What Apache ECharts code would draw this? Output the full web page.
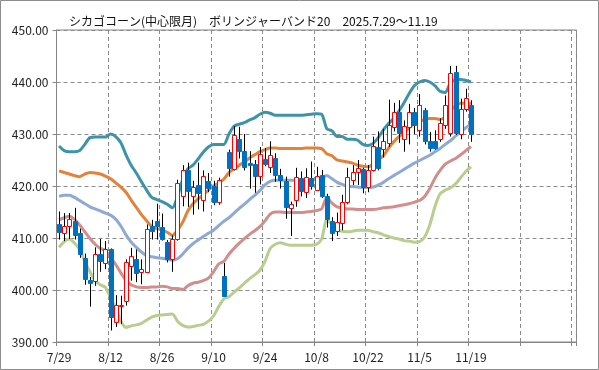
<!DOCTYPE html>
<html><head><meta charset="utf-8">
<script src="https://cdn.jsdelivr.net/npm/echarts@6/dist/echarts.min.js"></script>
<style>html,body{margin:0;padding:0;background:#fff}#c{width:599px;height:370px}</style>
</head><body><div id="c"></div>
<script>
const titleText = 'シカゴコーン(中心限月)　ボリンジャーバンド20　2025.7.29～11.19';
const dates = ['7/29','7/30','7/31','8/1','8/4','8/5','8/6','8/7','8/8','8/11',
 '8/12','8/13','8/14','8/15','8/18','8/19','8/20','8/21','8/22','8/25',
 '8/26','8/27','8/28','8/29','9/2','9/3','9/4','9/5','9/8','9/9',
 '9/10','9/11','9/12','9/15','9/16','9/17','9/18','9/19','9/22','9/23',
 '9/24','9/25','9/26','9/29','9/30','10/1','10/2','10/3','10/6','10/7',
 '10/8','10/9','10/10','10/13','10/14','10/15','10/16','10/17','10/20','10/21',
 '10/22','10/23','10/24','10/27','10/28','10/29','10/30','10/31','11/3','11/4',
 '11/5','11/6','11/7','11/10','11/11','11/12','11/13','11/14','11/17','11/18','11/19'];
const blankSlots = 20;
const yTicks = [390, 400, 410, 420, 430, 440, 450];

const openV = [412.6,411.0,412.3,413.3,411.0,406.1,402.0,401.8,406.9,405.1,
 407.8,394.0,397.0,397.8,404.5,406.0,403.6,403.6,412.4,413.2,
 412.2,409.2,406.0,409.9,418.0,423.1,418.0,420.1,417.2,421.0,
 420.0,417.0,402.7,426.5,423.2,429.0,426.8,424.4,424.2,421.8,
 425.2,423.7,425.3,422.2,421.0,415.8,417.4,421.5,419.0,421.5,
 419.4,422.1,418.0,413.2,411.3,413.0,417.0,421.2,422.7,423.3,
 419.8,423.1,427.5,427.0,428.3,431.4,434.2,429.0,431.3,434.2,
 430.7,434.7,428.6,428.6,429.1,431.7,430.2,441.9,430.0,434.9,435.5];
const closeV = [411.0,412.4,413.7,410.7,406.9,402.0,401.5,407.0,405.6,407.8,
 394.7,397.2,397.2,405.3,406.5,403.4,404.1,411.8,411.5,412.3,
 409.8,406.0,409.9,420.6,423.0,419.0,419.8,418.6,421.9,419.6,
 417.0,421.2,398.9,423.4,429.8,426.7,423.7,424.0,421.8,426.1,
 424.3,426.0,422.1,421.3,416.0,416.5,421.8,419.0,421.8,420.0,
 422.0,418.1,413.5,410.9,413.0,417.0,421.8,422.7,423.4,419.9,
 423.1,427.7,423.5,428.6,431.8,434.2,430.2,431.5,434.2,431.7,
 435.5,428.8,427.2,427.2,432.1,435.5,441.7,430.2,434.9,437.0,430.0];
const highV = [415.1,414.8,414.8,415.8,411.8,407.0,402.5,408.2,409.8,409.4,
 408.0,399.0,398.9,405.9,408.1,407.8,405.9,412.6,413.5,416.6,
 414.7,409.6,410.5,421.2,424.0,424.5,421.0,424.5,423.0,422.5,
 421.0,421.6,405.2,427.0,431.5,431.4,430.0,426.7,425.0,427.5,
 427.3,428.6,426.3,423.3,421.8,417.0,423.5,422.8,423.4,424.7,
 423.7,423.1,418.5,414.0,414.9,418.3,423.5,424.0,425.0,423.5,
 424.0,429.5,430.5,431.0,436.6,436.0,436.5,432.6,435.8,435.0,
 437.7,435.0,430.4,430.7,433.0,437.4,443.1,443.1,436.8,438.7,436.5];
const lowV = [409.7,409.4,409.8,409.7,406.2,401.0,396.8,400.8,403.5,404.0,
 392.2,392.9,393.5,397.0,401.8,401.5,401.1,403.3,409.7,409.7,
 409.5,405.3,403.5,409.5,416.1,416.0,414.5,415.5,415.1,418.8,
 416.3,416.4,398.9,421.8,423.0,425.3,423.0,419.5,418.7,420.3,
 423.8,422.5,420.8,419.5,413.7,410.4,416.0,418.0,417.7,419.3,
 419.2,417.7,412.0,409.4,410.4,411.5,416.5,420.2,420.2,418.6,
 418.8,422.8,423.0,425.5,427.5,430.5,428.3,426.6,428.0,430.0,
 429.5,428.0,426.6,427.0,428.5,431.0,429.5,429.8,429.0,434.3,428.5];

const plus2 = [427.7,426.8,426.6,426.6,426.8,428.0,429.3,429.4,429.4,429.4,
 430.0,429.5,428.3,426.0,424.0,422.5,420.8,419.2,417.8,417.4,
 417.0,416.5,415.8,418.0,421.2,423.3,424.0,425.2,426.5,427.5,
 428.0,428.0,428.0,430.0,431.5,431.9,432.2,432.7,433.1,433.8,
 434.2,434.0,433.6,433.6,433.6,433.6,433.6,433.6,433.7,433.8,
 433.9,433.8,431.0,430.6,429.5,429.5,429.0,429.0,428.8,428.0,
 427.8,428.2,429.3,430.8,432.0,433.0,434.4,436.0,437.8,439.3,
 440.0,440.3,440.0,439.3,438.2,438.0,439.8,440.4,440.5,440.3,440.0];
const plus1 = [422.9,422.6,422.3,422.0,421.8,422.3,422.6,422.5,422.3,421.9,
 421.4,420.6,419.8,418.8,417.3,415.9,414.5,413.3,412.2,411.8,
 411.5,411.1,410.5,411.5,413.0,415.2,416.6,417.5,418.3,419.2,
 420.0,420.6,421.3,422.6,423.3,424.0,424.6,425.4,426.0,426.6,
 427.0,427.3,427.3,427.2,427.2,427.2,427.2,427.2,427.3,427.3,
 427.3,427.2,426.2,425.8,425.0,424.8,424.6,424.4,424.0,423.8,
 423.7,424.2,425.0,425.8,427.3,428.5,429.5,430.2,431.2,432.0,
 432.4,432.8,433.0,433.0,432.8,433.3,434.5,435.4,435.9,435.9,435.8];
const ma20 = [418.0,418.2,418.2,417.8,417.2,416.6,416.0,415.6,415.2,414.8,
 414.4,413.6,412.3,410.6,409.2,408.2,407.3,406.6,406.4,406.2,
 406.1,405.9,405.7,406.0,406.9,408.0,408.9,409.6,410.3,410.9,
 411.5,412.4,413.2,413.9,414.8,415.7,416.5,417.4,418.2,419.1,
 420.2,420.9,421.1,421.1,421.1,421.1,421.1,421.1,421.1,421.2,
 421.3,421.5,422.0,421.4,420.7,420.3,420.0,419.9,419.8,419.7,
 419.7,419.8,420.2,420.7,421.4,422.0,422.6,423.2,423.8,424.4,
 424.9,425.4,425.9,426.6,427.2,428.0,428.7,429.6,430.4,431.2,431.9];
const minus1 = [413.5,413.9,414.2,413.6,412.5,411.2,409.9,408.8,408.0,407.6,
 406.3,404.9,403.3,401.8,401.0,400.6,400.5,400.5,400.6,400.6,
 400.7,400.6,400.3,400.3,400.1,400.8,401.3,401.5,401.8,402.3,
 403.5,405.0,405.5,406.9,408.0,409.0,409.9,410.7,411.4,412.2,
 413.3,414.6,415.0,415.0,414.9,414.9,414.9,414.9,415.0,415.1,
 415.3,415.6,417.8,416.7,416.0,415.8,415.6,415.6,415.5,415.5,
 415.5,415.5,415.6,415.8,415.9,416.0,416.2,416.4,416.6,416.9,
 417.2,418.0,419.5,421.5,423.0,424.2,424.8,425.3,426.0,426.8,427.6];
const minus2 = [408.2,409.3,409.8,409.0,407.8,405.5,403.5,401.8,401.0,400.5,
 398.5,396.5,394.0,392.8,393.1,393.3,393.6,394.2,394.8,395.1,
 395.2,395.3,395.4,394.0,393.2,392.9,393.0,393.2,393.4,394.0,
 395.0,396.8,398.3,398.7,399.6,400.4,401.3,402.2,402.9,403.8,
 405.5,408.0,408.8,409.1,408.8,408.6,408.6,408.6,408.6,408.6,
 408.8,409.8,413.5,412.6,411.5,411.3,411.2,411.3,411.5,411.5,
 411.5,411.2,411.0,410.6,410.3,410.0,409.8,409.5,409.4,409.2,
 409.3,410.2,412.5,416.0,418.5,419.2,419.6,420.4,421.6,422.8,423.7];

const categories = dates.concat(new Array(blankSlots).fill(''));
const candleData = dates.map((d, i) => [i, openV[i], closeV[i], lowV[i], highV[i]]);

const FONT = '"Noto Sans CJK JP", "Noto Sans", sans-serif';
const GRIDC = '#8a8a8a';

function bandLine(name, data, color) {
  return { name, type: 'line', data, symbol: 'none', smooth: 0.25, z: 2,
    lineStyle: { color, width: 3 }, emphasis: { disabled: true } };
}

const chart = echarts.init(document.getElementById('c'), null, { renderer: 'canvas' });
chart.setOption({
  backgroundColor: '#fff',
  animation: false,
  title: { text: titleText, left: 64, top: 10,
    textStyle: { fontFamily: FONT, fontSize: 12, fontWeight: 'normal', color: '#111' } },
  graphic: [{ type: 'rect', shape: { x: 0.5, y: 0.5, width: 598, height: 369 },
    style: { fill: 'none', stroke: '#8c8c8c', lineWidth: 1 }, z: 100 }],
  grid: { left: 56.5, top: 30, width: 520, height: 312, show: true,
    borderColor: '#868686', borderWidth: 1, backgroundColor: 'transparent' },
  xAxis: { type: 'category', data: categories, boundaryGap: true,
    axisLine: { lineStyle: { color: '#868686' } },
    axisTick: { show: true, interval: 9, length: 4, lineStyle: { color: '#868686' } },
    axisLabel: { interval: 9, margin: 9, fontFamily: FONT, fontSize: 12, color: '#222' },
    splitLine: { show: true, interval: 9, lineStyle: { color: GRIDC, type: [4, 3], width: 1 } } },
  yAxis: { type: 'value', min: yTicks[0], max: yTicks[yTicks.length - 1], interval: 10,
    axisLine: { show: true, lineStyle: { color: '#868686' } },
    axisTick: { show: true, length: 4, lineStyle: { color: '#868686' } },
    axisLabel: { margin: 8, fontFamily: FONT, fontSize: 12, color: '#222',
      formatter: v => v.toFixed(2) },
    splitLine: { show: true, lineStyle: { color: GRIDC, type: [4, 3], width: 1 } } },
  series: [
    bandLine('+2σ', plus2, '#3c94aa'),
    bandLine('+1σ', plus1, '#e3823a'),
    bandLine('MA20', ma20, '#8fa9d5'),
    bandLine('-1σ', minus1, '#d18e8c'),
    bandLine('-2σ', minus2, '#b8ce8f'),
    { type: 'custom', z: 5, data: candleData, encode: { x: 0, y: [1, 2, 3, 4] },
      renderItem: function (params, api) {
        const i = api.value(0);
        const o = api.value(1), c = api.value(2), l = api.value(3), h = api.value(4);
        const pO = api.coord([i, o]), pC = api.coord([i, c]);
        const pH = api.coord([i, h]), pL = api.coord([i, l]);
        const cx = Math.round(pO[0]) + 0.5;
        const top = Math.min(pO[1], pC[1]);
        let hgt = Math.abs(pO[1] - pC[1]);
        if (hgt < 1) hgt = 1;
        const up = c >= o;
        return { type: 'group', children: [
          { type: 'line', shape: { x1: cx, y1: pH[1], x2: cx, y2: pL[1] },
            style: { stroke: '#000', lineWidth: 1 } },
          { type: 'rect', shape: { x: cx - 2, y: Math.round(top) + 0.5, width: 4, height: Math.max(1, Math.round(hgt)) },
            style: up ? { fill: '#fff', stroke: '#ff0000', lineWidth: 1 }
                      : { fill: '#0070c0', stroke: '#0070c0', lineWidth: 1 } }
        ] };
      } }
  ]
});
</script></body></html>
